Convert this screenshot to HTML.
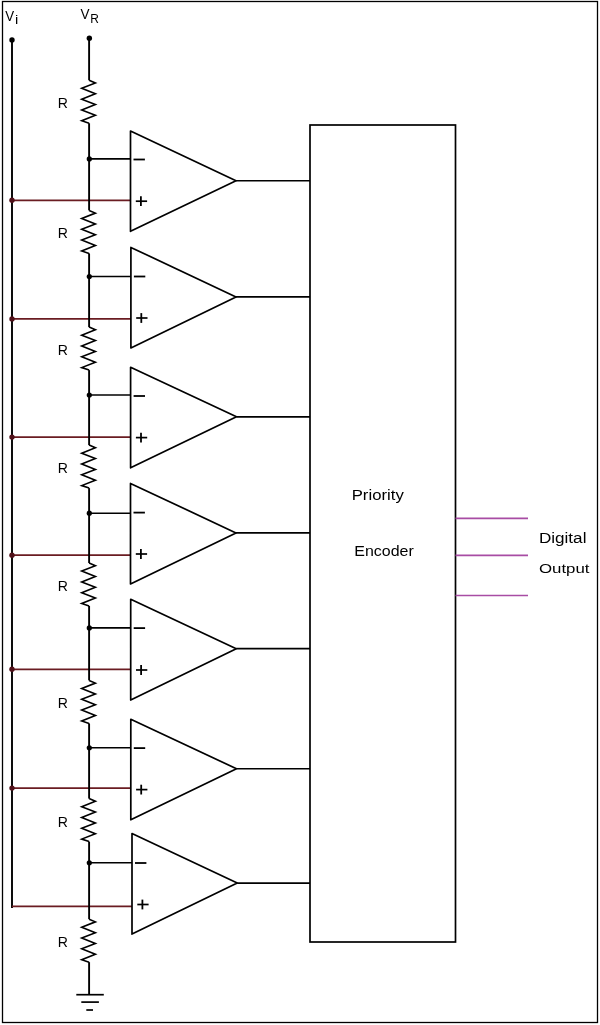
<!DOCTYPE html>
<html><head><meta charset="utf-8"><style>
html,body{margin:0;padding:0;background:#fff;}
body{width:600px;height:1025px;overflow:hidden;}
svg{display:block;will-change:transform;}
text{font-family:"Liberation Sans",sans-serif;}

</style></head><body>
<svg width="600" height="1025" viewBox="0 0 600 1025">
<rect width="600" height="1025" fill="#fff"/>
<rect x="2.5" y="1.5" width="595" height="1021" fill="none" stroke="#000" stroke-width="1.3"/>
<line x1="12.0" y1="40" x2="12.0" y2="908.0" stroke="#000" stroke-width="1.9"/>
<circle cx="12.0" cy="40" r="2.7" fill="#000"/>
<line x1="12.0" y1="200.3" x2="130.5" y2="200.3" stroke="#6a1c22" stroke-width="1.7"/>
<circle cx="12.0" cy="200.3" r="2.7" fill="#50111a"/>
<line x1="12.0" y1="318.9" x2="130.9" y2="318.9" stroke="#6a1c22" stroke-width="1.7"/>
<circle cx="12.0" cy="318.9" r="2.7" fill="#50111a"/>
<line x1="12.0" y1="437.1" x2="130.6" y2="437.1" stroke="#6a1c22" stroke-width="1.7"/>
<circle cx="12.0" cy="437.1" r="2.7" fill="#50111a"/>
<line x1="12.0" y1="555.2" x2="130.5" y2="555.2" stroke="#6a1c22" stroke-width="1.7"/>
<circle cx="12.0" cy="555.2" r="2.7" fill="#50111a"/>
<line x1="12.0" y1="669.3" x2="130.7" y2="669.3" stroke="#6a1c22" stroke-width="1.7"/>
<circle cx="12.0" cy="669.3" r="2.7" fill="#50111a"/>
<line x1="12.0" y1="788.1" x2="130.8" y2="788.1" stroke="#6a1c22" stroke-width="1.7"/>
<circle cx="12.0" cy="788.1" r="2.7" fill="#50111a"/>
<line x1="12.0" y1="906.4" x2="132.0" y2="906.4" stroke="#6a1c22" stroke-width="1.7"/>
<line x1="89.1" y1="38" x2="89.1" y2="80.25" stroke="#000" stroke-width="1.9"/>
<line x1="89.1" y1="123.25" x2="89.1" y2="210.4" stroke="#000" stroke-width="1.9"/>
<line x1="89.1" y1="253.4" x2="89.1" y2="327.1" stroke="#000" stroke-width="1.9"/>
<line x1="89.1" y1="370.1" x2="89.1" y2="445.1" stroke="#000" stroke-width="1.9"/>
<line x1="89.1" y1="488.1" x2="89.1" y2="563" stroke="#000" stroke-width="1.9"/>
<line x1="89.1" y1="606" x2="89.1" y2="680.4" stroke="#000" stroke-width="1.9"/>
<line x1="89.1" y1="723.4" x2="89.1" y2="798.6" stroke="#000" stroke-width="1.9"/>
<line x1="89.1" y1="841.6" x2="89.1" y2="919.15" stroke="#000" stroke-width="1.9"/>
<line x1="89.1" y1="962.15" x2="89.1" y2="994.7" stroke="#000" stroke-width="1.9"/>
<circle cx="89.35" cy="38.3" r="2.7" fill="#000"/>
<path d="M89.10 80.25 L95.40 82.95 L81.70 88.35 L95.40 93.75 L81.70 99.15 L95.40 104.55 L81.70 109.95 L95.40 115.35 L81.70 120.75 L89.10 123.25" fill="none" stroke="#000" stroke-width="1.6" stroke-linejoin="miter"/>
<path d="M89.10 210.40 L95.40 213.10 L81.70 218.50 L95.40 223.90 L81.70 229.30 L95.40 234.70 L81.70 240.10 L95.40 245.50 L81.70 250.90 L89.10 253.40" fill="none" stroke="#000" stroke-width="1.6" stroke-linejoin="miter"/>
<path d="M89.10 327.10 L95.40 329.80 L81.70 335.20 L95.40 340.60 L81.70 346.00 L95.40 351.40 L81.70 356.80 L95.40 362.20 L81.70 367.60 L89.10 370.10" fill="none" stroke="#000" stroke-width="1.6" stroke-linejoin="miter"/>
<path d="M89.10 445.10 L95.40 447.80 L81.70 453.20 L95.40 458.60 L81.70 464.00 L95.40 469.40 L81.70 474.80 L95.40 480.20 L81.70 485.60 L89.10 488.10" fill="none" stroke="#000" stroke-width="1.6" stroke-linejoin="miter"/>
<path d="M89.10 563.00 L95.40 565.70 L81.70 571.10 L95.40 576.50 L81.70 581.90 L95.40 587.30 L81.70 592.70 L95.40 598.10 L81.70 603.50 L89.10 606.00" fill="none" stroke="#000" stroke-width="1.6" stroke-linejoin="miter"/>
<path d="M89.10 680.40 L95.40 683.10 L81.70 688.50 L95.40 693.90 L81.70 699.30 L95.40 704.70 L81.70 710.10 L95.40 715.50 L81.70 720.90 L89.10 723.40" fill="none" stroke="#000" stroke-width="1.6" stroke-linejoin="miter"/>
<path d="M89.10 798.60 L95.40 801.30 L81.70 806.70 L95.40 812.10 L81.70 817.50 L95.40 822.90 L81.70 828.30 L95.40 833.70 L81.70 839.10 L89.10 841.60" fill="none" stroke="#000" stroke-width="1.6" stroke-linejoin="miter"/>
<path d="M89.10 919.15 L95.40 921.85 L81.70 927.25 L95.40 932.65 L81.70 938.05 L95.40 943.45 L81.70 948.85 L95.40 954.25 L81.70 959.65 L89.10 962.15" fill="none" stroke="#000" stroke-width="1.6" stroke-linejoin="miter"/>
<text x="57.75" y="108.15" font-size="14.54" textLength="10.16" lengthAdjust="spacingAndGlyphs" fill="#000">R</text>
<text x="57.75" y="238.30" font-size="14.54" textLength="10.16" lengthAdjust="spacingAndGlyphs" fill="#000">R</text>
<text x="57.75" y="355.00" font-size="14.54" textLength="10.16" lengthAdjust="spacingAndGlyphs" fill="#000">R</text>
<text x="57.75" y="473.00" font-size="14.54" textLength="10.16" lengthAdjust="spacingAndGlyphs" fill="#000">R</text>
<text x="57.75" y="590.90" font-size="14.54" textLength="10.16" lengthAdjust="spacingAndGlyphs" fill="#000">R</text>
<text x="57.75" y="708.30" font-size="14.54" textLength="10.16" lengthAdjust="spacingAndGlyphs" fill="#000">R</text>
<text x="57.75" y="826.50" font-size="14.54" textLength="10.16" lengthAdjust="spacingAndGlyphs" fill="#000">R</text>
<text x="57.75" y="947.05" font-size="14.54" textLength="10.16" lengthAdjust="spacingAndGlyphs" fill="#000">R</text>
<line x1="89.1" y1="158.9" x2="130.5" y2="158.9" stroke="#000" stroke-width="1.6"/>
<circle cx="89.3" cy="158.9" r="2.6" fill="#000"/>
<line x1="89.1" y1="276.5" x2="130.9" y2="276.5" stroke="#000" stroke-width="1.6"/>
<circle cx="89.3" cy="276.5" r="2.6" fill="#000"/>
<line x1="89.1" y1="395" x2="130.6" y2="395" stroke="#000" stroke-width="1.6"/>
<circle cx="89.3" cy="395" r="2.6" fill="#000"/>
<line x1="89.1" y1="513.2" x2="130.5" y2="513.2" stroke="#000" stroke-width="1.6"/>
<circle cx="89.3" cy="513.2" r="2.6" fill="#000"/>
<line x1="89.1" y1="627.9" x2="130.7" y2="627.9" stroke="#000" stroke-width="1.6"/>
<circle cx="89.3" cy="627.9" r="2.6" fill="#000"/>
<line x1="89.1" y1="747.8" x2="130.8" y2="747.8" stroke="#000" stroke-width="1.6"/>
<circle cx="89.3" cy="747.8" r="2.6" fill="#000"/>
<line x1="89.1" y1="862.8" x2="132.0" y2="862.8" stroke="#000" stroke-width="1.6"/>
<circle cx="89.3" cy="862.8" r="2.6" fill="#000"/>
<path d="M130.5 131.05 L236 180.70 L130.5 231.26 Z" fill="none" stroke="#000" stroke-width="1.7" stroke-linejoin="round"/>
<line x1="236" y1="180.70" x2="310" y2="180.70" stroke="#000" stroke-width="1.6"/>
<line x1="133.5" y1="159.5" x2="144.9" y2="159.5" stroke="#000" stroke-width="1.8"/>
<line x1="135.8" y1="201.2" x2="147.1" y2="201.2" stroke="#000" stroke-width="1.7"/>
<line x1="140.9" y1="196.29999999999998" x2="140.9" y2="206.1" stroke="#000" stroke-width="1.8"/>
<path d="M130.9 247.40 L236 296.90 L130.9 347.90 Z" fill="none" stroke="#000" stroke-width="1.7" stroke-linejoin="round"/>
<line x1="236" y1="296.90" x2="310" y2="296.90" stroke="#000" stroke-width="1.6"/>
<line x1="133.9" y1="276.5" x2="145.3" y2="276.5" stroke="#000" stroke-width="1.8"/>
<line x1="136.20000000000002" y1="318.0" x2="147.5" y2="318.0" stroke="#000" stroke-width="1.7"/>
<line x1="141.3" y1="313.1" x2="141.3" y2="322.9" stroke="#000" stroke-width="1.8"/>
<path d="M130.6 367.35 L236.5 416.85 L130.6 467.85 Z" fill="none" stroke="#000" stroke-width="1.7" stroke-linejoin="round"/>
<line x1="236.5" y1="416.85" x2="310" y2="416.85" stroke="#000" stroke-width="1.6"/>
<line x1="133.6" y1="396" x2="145.0" y2="396" stroke="#000" stroke-width="1.8"/>
<line x1="135.9" y1="437.6" x2="147.2" y2="437.6" stroke="#000" stroke-width="1.7"/>
<line x1="141.0" y1="432.70000000000005" x2="141.0" y2="442.5" stroke="#000" stroke-width="1.8"/>
<path d="M130.5 483.40 L236 532.90 L130.5 583.90 Z" fill="none" stroke="#000" stroke-width="1.7" stroke-linejoin="round"/>
<line x1="236" y1="532.90" x2="310" y2="532.90" stroke="#000" stroke-width="1.6"/>
<line x1="133.5" y1="512.6" x2="144.9" y2="512.6" stroke="#000" stroke-width="1.8"/>
<line x1="135.8" y1="554.0" x2="147.1" y2="554.0" stroke="#000" stroke-width="1.7"/>
<line x1="140.9" y1="549.1" x2="140.9" y2="558.9" stroke="#000" stroke-width="1.8"/>
<path d="M130.7 599.30 L236.25 648.65 L130.7 700.00 Z" fill="none" stroke="#000" stroke-width="1.7" stroke-linejoin="round"/>
<line x1="236.25" y1="648.65" x2="310" y2="648.65" stroke="#000" stroke-width="1.6"/>
<line x1="133.7" y1="628.1" x2="145.1" y2="628.1" stroke="#000" stroke-width="1.8"/>
<line x1="136.0" y1="670.0" x2="147.29999999999998" y2="670.0" stroke="#000" stroke-width="1.7"/>
<line x1="141.1" y1="665.1" x2="141.1" y2="674.9" stroke="#000" stroke-width="1.8"/>
<path d="M130.8 719.25 L236.5 768.75 L130.8 819.75 Z" fill="none" stroke="#000" stroke-width="1.7" stroke-linejoin="round"/>
<line x1="236.5" y1="768.75" x2="310" y2="768.75" stroke="#000" stroke-width="1.6"/>
<line x1="133.8" y1="748.1" x2="145.20000000000002" y2="748.1" stroke="#000" stroke-width="1.8"/>
<line x1="136.10000000000002" y1="789.6" x2="147.4" y2="789.6" stroke="#000" stroke-width="1.7"/>
<line x1="141.20000000000002" y1="784.7" x2="141.20000000000002" y2="794.5" stroke="#000" stroke-width="1.8"/>
<path d="M132.0 833.60 L237.25 883.10 L132.0 934.10 Z" fill="none" stroke="#000" stroke-width="1.7" stroke-linejoin="round"/>
<line x1="237.25" y1="883.10" x2="310" y2="883.10" stroke="#000" stroke-width="1.6"/>
<line x1="135.0" y1="863" x2="146.4" y2="863" stroke="#000" stroke-width="1.8"/>
<line x1="137.3" y1="904.5" x2="148.6" y2="904.5" stroke="#000" stroke-width="1.7"/>
<line x1="142.4" y1="899.6" x2="142.4" y2="909.4" stroke="#000" stroke-width="1.8"/>
<rect x="310" y="125" width="145.5" height="817" fill="none" stroke="#000" stroke-width="1.7"/>
<line x1="455.5" y1="518.4" x2="528" y2="518.4" stroke="#a84ca4" stroke-width="1.6"/>
<line x1="455.5" y1="555.4" x2="528" y2="555.4" stroke="#a84ca4" stroke-width="1.6"/>
<line x1="455.5" y1="595.5" x2="528" y2="595.5" stroke="#a84ca4" stroke-width="1.6"/>
<line x1="76.3" y1="994.7" x2="103.8" y2="994.7" stroke="#000" stroke-width="1.7"/>
<line x1="81.3" y1="1002.1" x2="98.9" y2="1002.1" stroke="#000" stroke-width="1.7"/>
<line x1="86.3" y1="1010" x2="93" y2="1010" stroke="#000" stroke-width="1.7"/>
<text x="351.73" y="500.40" font-size="14.24" textLength="52.06" lengthAdjust="spacingAndGlyphs" fill="#000">Priority</text>
<text x="354.29" y="555.60" font-size="14.10" textLength="59.47" lengthAdjust="spacingAndGlyphs" fill="#000">Encoder</text>
<text x="538.90" y="542.55" font-size="13.74" textLength="47.55" lengthAdjust="spacingAndGlyphs" fill="#000">Digital</text>
<text x="538.95" y="572.90" font-size="13.52" textLength="50.57" lengthAdjust="spacingAndGlyphs" fill="#000">Output</text>
<text x="5.19" y="20.60" font-size="15.12" textLength="8.87" lengthAdjust="spacingAndGlyphs" fill="#000">V</text>
<text x="14.91" y="23.70" font-size="12.28" textLength="3.29" lengthAdjust="spacingAndGlyphs" fill="#000">i</text>
<text x="80.44" y="19.20" font-size="14.83" textLength="9.02" lengthAdjust="spacingAndGlyphs" fill="#000">V</text>
<text x="90.22" y="22.60" font-size="12.21" textLength="8.64" lengthAdjust="spacingAndGlyphs" fill="#000">R</text>
</svg>
</body></html>
